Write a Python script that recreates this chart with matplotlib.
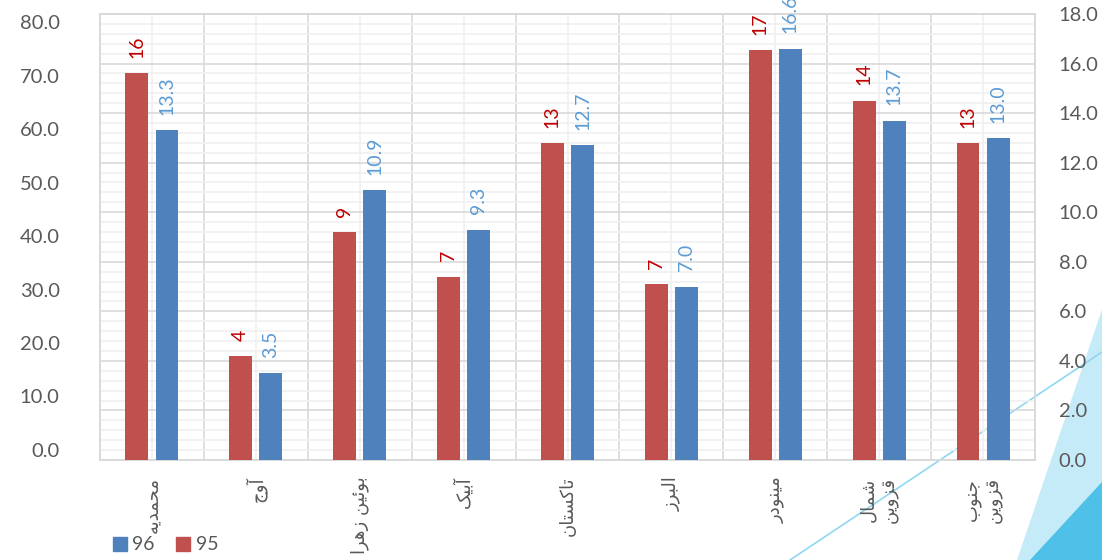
import matplotlib.pyplot as plt
import numpy as np
from matplotlib.patches import Polygon, Patch
from matplotlib.lines import Line2D

plt.rcParams['font.family'] = ['Lato', 'DejaVu Sans']

regions = ['محمدیه', 'آوج', 'بوئین زهرا', 'آبیک', 'تاکستان', 'البرز', 'مینودر',
           'شمال\nقزوین', 'جنوب\nقزوین']
y95 = [15.6, 4.2, 9.2, 7.4, 12.8, 7.1, 16.55, 14.5, 12.8]
y96 = [13.3, 3.5, 10.9, 9.3, 12.7, 7.0, 16.6, 13.7, 13.0]
left_ticks = np.arange(0, 81, 10)
right_ticks = np.arange(0, 19, 2)

# presentation forms: isolated, final, initial, medial (None = does not join forward)
FORMS = {
    'ا': ('\uFE8D', '\uFE8E', None, None),
    'آ': ('\uFE81', '\uFE82', None, None),
    'د': ('\uFEA9', '\uFEAA', None, None),
    'ر': ('\uFEAD', '\uFEAE', None, None),
    'ز': ('\uFEAF', '\uFEB0', None, None),
    'و': ('\uFEED', '\uFEEE', None, None),
    'ب': ('\uFE8F', '\uFE90', '\uFE91', '\uFE92'),
    'ت': ('\uFE95', '\uFE96', '\uFE97', '\uFE98'),
    'ج': ('\uFE9D', '\uFE9E', '\uFE9F', '\uFEA0'),
    'ح': ('\uFEA1', '\uFEA2', '\uFEA3', '\uFEA4'),
    'س': ('\uFEB1', '\uFEB2', '\uFEB3', '\uFEB4'),
    'ش': ('\uFEB5', '\uFEB6', '\uFEB7', '\uFEB8'),
    'ق': ('\uFED5', '\uFED6', '\uFED7', '\uFED8'),
    'ک': ('\uFB8E', '\uFB8F', '\uFB90', '\uFB91'),
    'ل': ('\uFEDD', '\uFEDE', '\uFEDF', '\uFEE0'),
    'م': ('\uFEE1', '\uFEE2', '\uFEE3', '\uFEE4'),
    'ن': ('\uFEE5', '\uFEE6', '\uFEE7', '\uFEE8'),
    'ه': ('\uFEE9', '\uFEEA', '\uFEEB', '\uFEEC'),
    'ی': ('\uFBFC', '\uFBFD', '\uFBFE', '\uFBFF'),
    'ئ': ('\uFE89', '\uFE8A', '\uFE8B', '\uFE8C'),
}


def shape(text):
    """rough arabic shaping + reversal since matplotlib has no bidi"""
    out_lines = []
    for line in text.split('\n'):
        res = []
        for i, c in enumerate(line):
            if c not in FORMS:
                res.append(c)
                continue
            prev = line[i - 1] if i > 0 else ''
            nxt = line[i + 1] if i + 1 < len(line) else ''
            jp = prev in FORMS and FORMS[prev][2] is not None
            jn = nxt in FORMS and FORMS[c][2] is not None
            f = FORMS[c]
            if jp and jn:
                res.append(f[3])
            elif jp:
                res.append(f[1])
            elif jn:
                res.append(f[2])
            else:
                res.append(f[0])
        out_lines.append(''.join(res)[::-1])
    return '\n'.join(out_lines)


W, H = 1102, 560
fig = plt.figure(figsize=(W / 100, H / 100), dpi=100)
fig.patch.set_facecolor('white')

# decoration in the corner
fig.add_artist(Polygon([[1017 / W, 0], [1.01, 283 / H], [1.01, 0]], closed=True,
                       transform=fig.transFigure, facecolor='#c6ebf8', edgecolor='none', zorder=-2))
fig.add_artist(Polygon([[1030 / W, 0], [1.01, 90 / H], [1.01, 0]], closed=True,
                       transform=fig.transFigure, facecolor='#4fc1e9', edgecolor='none', zorder=-1))
fig.add_artist(Line2D([790 / W, 1.0], [0, 208 / H], transform=fig.transFigure,
                      color='#8fd6f0', lw=1.2, zorder=-1))

ax = fig.add_axes([100 / W, 100 / H, 935 / W, 446 / H])
ax.set_facecolor('none')
ax2 = ax.twinx()
ax2.set_facecolor('none')

x = np.arange(len(regions))
width = 0.22
off = 0.145
b95 = ax2.bar(x - off, y95, width, color='#c0504d', zorder=3)
b96 = ax2.bar(x + off, y96, width, color='#4f81bd', zorder=3)

for rect, v in zip(b95, y95):
    ax2.annotate('{:.0f}'.format(v), xy=(rect.get_x() + rect.get_width() / 2, v),
                 xytext=(0, 11), textcoords='offset points', rotation=90,
                 ha='center', va='bottom', color='#c00000', fontsize=14, annotation_clip=False)
for rect, v in zip(b96, y96):
    ax2.annotate('{:.1f}'.format(v), xy=(rect.get_x() + rect.get_width() / 2, v),
                 xytext=(0, 11), textcoords='offset points', rotation=90,
                 ha='center', va='bottom', color='#5b9bd5', fontsize=14, annotation_clip=False)

ax2.set_ylim(0, 18)
ax2.set_yticks(right_ticks)
ax2.set_yticklabels(['{:.1f}'.format(t) for t in right_ticks])
ax2.set_yticks(np.arange(0, 18.01, 0.4), minor=True)
ax2.grid(axis='y', which='major', color='#d9d9d9', lw=1.2)
ax2.grid(axis='y', which='minor', color='#f0f0f0', lw=1.2)
ax2.set_axisbelow(True)
ax2.tick_params(axis='y', which='both', length=0, pad=17, labelsize=14.5, labelcolor='#595959')

ax.set_ylim(-1.87, 81.5)
ax.set_yticks(left_ticks)
ax.set_yticklabels(['{:.1f}'.format(t) for t in left_ticks])
ax.tick_params(axis='y', length=0, pad=29, labelsize=14.5, labelcolor='#595959')

ax.set_xlim(-0.5, len(regions) - 0.5)
ax.set_xticks(x)
ax.set_xticklabels([shape(r) for r in regions], rotation=90, family=['DejaVu Sans'])
ax.set_xticks(np.arange(-0.5, len(regions), 1.0), minor=True)
ax.tick_params(axis='x', which='both', length=0, pad=12, labelsize=13, labelcolor='#595959')
ax.grid(axis='x', which='major', color='#f0f0f0', lw=1.2)
ax.grid(axis='x', which='minor', color='#d9d9d9', lw=1.2)

for a in (ax, ax2):
    for s in a.spines.values():
        s.set_color('#d9d9d9')
        s.set_linewidth(1.2)

handles = [Patch(color='#4f81bd'), Patch(color='#c0504d')]
fig.legend(handles, ['96', '95'], loc='center left', bbox_to_anchor=(113 / W, 15 / H),
           ncol=2, frameon=False, fontsize=14, handlelength=0.7, handleheight=0.7,
           handletextpad=0.3, columnspacing=1.1, borderpad=0, borderaxespad=0,
           labelcolor='#595959')

fig.savefig('out.png', dpi=100)
